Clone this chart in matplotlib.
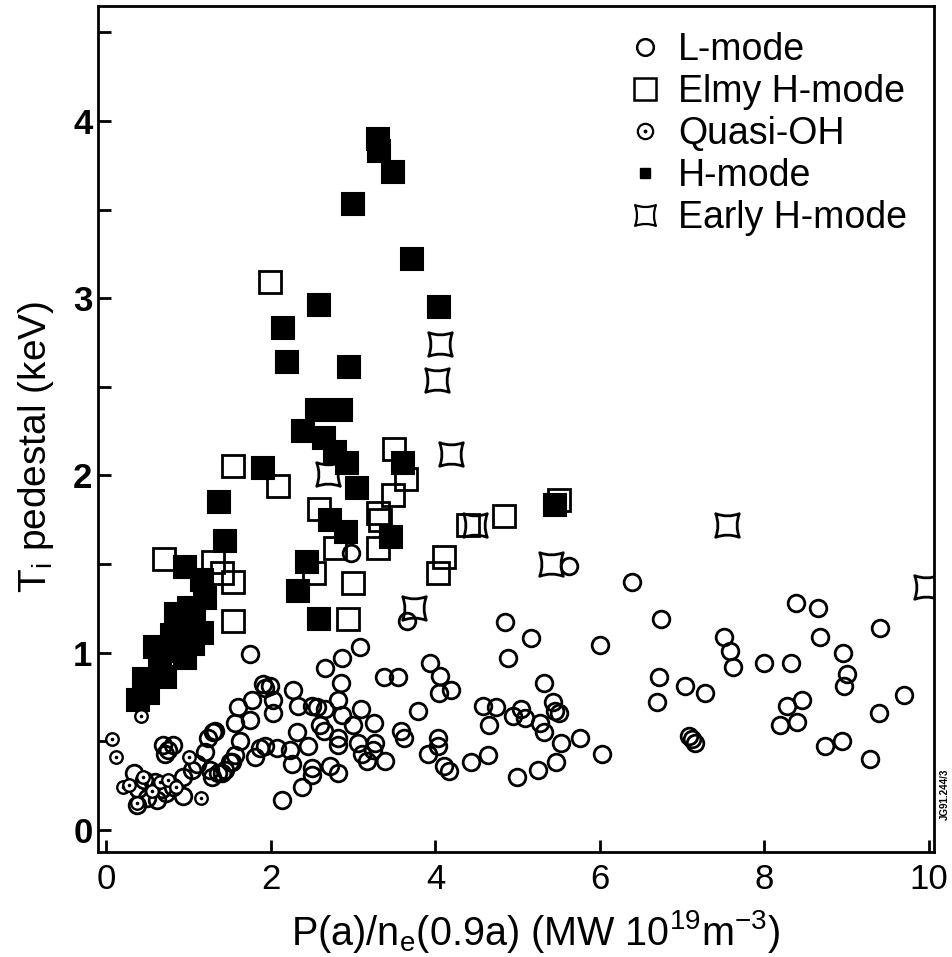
import numpy as np
import matplotlib.pyplot as plt
from matplotlib.path import Path
from matplotlib.lines import Line2D
from matplotlib.legend_handler import HandlerTuple

plt.rcParams['font.family'] = ['Liberation Sans', 'DejaVu Sans']
plt.rcParams['mathtext.default'] = 'regular'

# L-mode (open circles)
lmode_x = [0.34, 0.38, 0.46, 0.59, 0.67, 0.37, 0.49, 0.62, 0.73, 0.81, 0.93, 0.93, 1.04, 1.20,
           1.29, 1.26, 1.36, 1.44, 1.53, 1.56, 1.62, 1.56, 1.60, 1.75, 1.77, 1.90, 1.93, 1.75,
           1.81, 1.93, 0.69, 0.71, 0.81, 0.75, 1.10, 1.23, 1.32, 1.28, 1.40, 1.50, 1.87, 2.08,
           2.03, 2.03, 1.99,
           2.14, 2.38, 2.26, 2.23, 2.32, 2.45, 2.33, 2.27, 2.50, 2.56, 2.60, 2.64, 2.66, 2.66,
           2.86, 3.08, 2.85, 2.82, 2.87, 2.82, 2.82, 2.50, 2.50, 2.72, 2.82, 3.09, 3.00, 3.06,
           3.11, 3.17, 3.24, 3.27, 3.25, 3.39, 3.38, 3.54, 3.58, 3.62, 3.79, 3.94, 4.05, 4.19,
           4.04, 3.91, 4.03, 4.03, 4.10, 4.16, 2.97, 3.65,
           4.58, 4.65, 4.64, 4.43, 5.62, 6.39, 4.85, 5.16, 4.88, 6.00, 6.74, 5.32, 4.74, 4.94,
           5.04, 5.09, 5.27, 5.43, 5.45, 5.50, 5.32, 5.53, 5.76, 6.02, 5.47, 5.25, 4.99,
           6.72, 6.69, 7.03, 7.28, 7.08, 7.12, 7.16, 7.51, 7.58, 7.62, 8.00, 8.32, 8.38, 8.65,
           8.68, 8.96, 9.00, 8.97, 9.41, 9.69, 9.39, 9.28, 8.94, 8.74, 8.46, 8.27, 8.40, 8.19]
lmode_y = [0.32, 0.23, 0.28, 0.27, 0.23, 0.14, 0.18, 0.17, 0.21, 0.24, 0.19, 0.30, 0.34, 0.44,
           0.55, 0.34, 0.32, 0.34, 0.38, 0.42, 0.50, 0.60, 0.69, 0.62, 0.73, 0.82, 0.80, 0.99,
           0.41, 0.47, 0.48, 0.43, 0.48, 0.45, 0.37, 0.52, 0.56, 0.30, 0.32, 0.38, 0.46, 0.46,
           0.66, 0.73, 0.81,
           0.17, 0.24, 0.37, 0.45, 0.55, 0.47, 0.70, 0.79, 0.70, 0.69, 0.59, 0.56, 0.68, 0.91,
           0.97, 1.03, 0.83, 0.73, 0.65, 0.52, 0.48, 0.35, 0.31, 0.36, 0.32, 0.68, 0.59, 0.49,
           0.43, 0.39, 0.45, 0.49, 0.60, 0.39, 0.86, 0.86, 0.56, 0.52, 0.67, 0.94, 0.87, 0.79,
           0.77, 0.43, 0.47, 0.52, 0.36, 0.33, 1.56, 1.18,
           0.70, 0.59, 0.42, 0.38, 1.49, 1.40, 1.17, 1.08, 0.97, 1.04, 1.19, 0.83, 0.69, 0.64,
           0.68, 0.63, 0.60, 0.72, 0.67, 0.66, 0.55, 0.49, 0.52, 0.43, 0.38, 0.34, 0.30,
           0.86, 0.72, 0.81, 0.77, 0.53, 0.51, 0.49, 1.09, 1.01, 0.92, 0.94, 0.94, 1.28, 1.25,
           1.09, 1.00, 0.88, 0.81, 1.14, 0.76, 0.66, 0.40, 0.50, 0.47, 0.73, 0.70, 0.61, 0.59]

# Elmy H-mode (open squares)
elmy_x = [1.99, 1.54, 2.09, 0.70, 1.29, 1.40, 1.54, 1.54, 2.58, 2.78, 2.52, 3.00, 2.94,
          3.50, 3.64, 3.49, 3.30, 3.33, 3.30, 4.10, 4.03, 4.40, 4.83, 5.50]
elmy_y = [3.09, 2.05, 1.94, 1.53, 1.51, 1.45, 1.40, 1.18, 1.81, 1.59, 1.45, 1.39, 1.19,
          2.15, 1.98, 1.89, 1.79, 1.75, 1.59, 1.54, 1.45, 1.72, 1.77, 1.86]

# Quasi-OH (dotted circles)
qoh_x = [0.07, 0.12, 0.42, 1.00, 1.15, 0.20, 0.37, 0.27, 0.45, 0.55, 0.65, 0.75, 0.85]
qoh_y = [0.51, 0.41, 0.64, 0.41, 0.18, 0.24, 0.15, 0.25, 0.30, 0.22, 0.27, 0.28, 0.24]

# H-mode (filled squares)
hmode_x = [3.30, 3.32, 3.48, 3.00, 3.72, 2.59, 4.04, 2.15, 2.19, 2.95,
           2.56, 2.85, 2.39, 2.64, 2.78, 2.93, 3.05, 1.90, 1.37, 1.44, 2.72, 2.91, 3.61, 3.46,
           2.44, 2.33, 2.58, 5.45,
           0.95, 1.16, 1.20, 0.85, 1.07, 1.16, 0.59, 0.79, 0.95, 0.46, 0.71, 0.38, 0.50, 0.80,
           0.65, 1.00, 1.05]
hmode_y = [3.90, 3.83, 3.71, 3.53, 3.22, 2.96, 2.95, 2.83, 2.64, 2.61,
           2.37, 2.37, 2.25, 2.21, 2.13, 2.07, 1.93, 2.04, 1.85, 1.63, 1.75, 1.68, 2.07, 1.65,
           1.51, 1.35, 1.19, 1.83,
           1.48, 1.41, 1.31, 1.22, 1.18, 1.11, 1.03, 1.01, 0.97, 0.85, 0.86, 0.73, 0.77, 1.10,
           0.93, 1.25, 1.05]

# Early H-mode (pinched squares)
early_x = [4.05, 4.02, 4.19, 3.74, 2.70, 4.48, 5.40, 7.55, 9.96]
early_y = [2.74, 2.54, 2.12, 1.25, 2.01, 1.72, 1.50, 1.72, 1.37]

x_ticks = [0, 2, 4, 6, 8, 10]
y_ticks = [0, 1, 2, 3, 4]


def pinched_square():
    k = 0.62
    verts = [(-1, -1), (0, -k), (1, -1), (k, 0), (1, 1), (0, k), (-1, 1), (-k, 0), (-1, -1), (-1, -1)]
    codes = [Path.MOVETO, Path.CURVE3, Path.CURVE3, Path.CURVE3, Path.CURVE3,
             Path.CURVE3, Path.CURVE3, Path.CURVE3, Path.CURVE3, Path.CLOSEPOLY]
    return Path(verts, codes)


early_marker = pinched_square()

fig = plt.figure(figsize=(9.53, 9.57), dpi=100)
ax = fig.add_axes([0.103, 0.110, 0.877, 0.884])

lw = 2.0
ax.plot(lmode_x, lmode_y, ls='none', marker='o', ms=12, mfc='none', mec='black', mew=lw)
ax.plot(elmy_x, elmy_y, ls='none', marker='s', ms=16.5, mfc='none', mec='black', mew=lw)
ax.plot(early_x, early_y, ls='none', marker=early_marker, ms=17, mfc='none', mec='black', mew=lw)
ax.plot(hmode_x, hmode_y, ls='none', marker='s', ms=16.5, mfc='black', mec='black', mew=1.5)
ax.plot(qoh_x, qoh_y, ls='none', marker='o', ms=9, mfc='white', mec='black', mew=1.7)
ax.plot(qoh_x, qoh_y, ls='none', marker='o', ms=2.6, mfc='black', mec='black', mew=0)

ax.set_xlim(-0.1, 10.06)
ax.set_ylim(-0.124, 4.65)
ax.set_xticks(x_ticks)
ax.set_yticks(y_ticks)
ax.set_yticks(np.arange(0.5, 4.6, 1.0), minor=True)
ax.tick_params(axis='both', which='both', direction='in', length=9, width=2, top=False, right=False)
ax.tick_params(axis='x', labelsize=25, pad=8)
ax.tick_params(axis='y', labelsize=25, pad=4)
for lab in ax.get_yticklabels():
    lab.set_fontweight('bold')
for sp in ax.spines.values():
    sp.set_linewidth(2)

ax.set_xlabel(r'P(a)/n$_e$(0.9a) (MW 10$^{19}$m$^{-3}$)', fontsize=28.5)
ax.xaxis.set_label_coords(0.523, -0.066)
ax.set_ylabel(r'T$_i$ pedestal (keV)', fontsize=28)
ax.yaxis.set_label_coords(-0.05, 0.478)

circle_h = Line2D([], [], ls='none', marker='o', ms=11, mfc='none', mec='black', mew=1.6)
dot_h = Line2D([], [], ls='none', marker='o', ms=2.8, mfc='black', mec='black', mew=0)
handles = [
    Line2D([], [], ls='none', marker='o', ms=12, mfc='none', mec='black', mew=1.8),
    Line2D([], [], ls='none', marker='s', ms=16, mfc='none', mec='black', mew=1.8),
    (circle_h, dot_h),
    Line2D([], [], ls='none', marker='s', ms=7, mfc='black', mec='black'),
    Line2D([], [], ls='none', marker=early_marker, ms=15, mfc='none', mec='black', mew=1.6),
]
labels = ['L-mode', 'Elmy H-mode', 'Quasi-OH', 'H-mode', 'Early H-mode']
ax.legend(handles, labels, loc='upper right', frameon=False, fontsize=27,
          handlelength=1.0, handletextpad=0.4, labelspacing=0.16,
          borderaxespad=0.2, bbox_to_anchor=(0.995, 0.995),
          handler_map={tuple: HandlerTuple(ndivide=1, pad=0)})

fig.text(0.991, 0.17, 'JG91.244/3', rotation=90, fontsize=7, fontweight='bold',
         ha='center', va='center')

fig.savefig('out.png', dpi=100)
